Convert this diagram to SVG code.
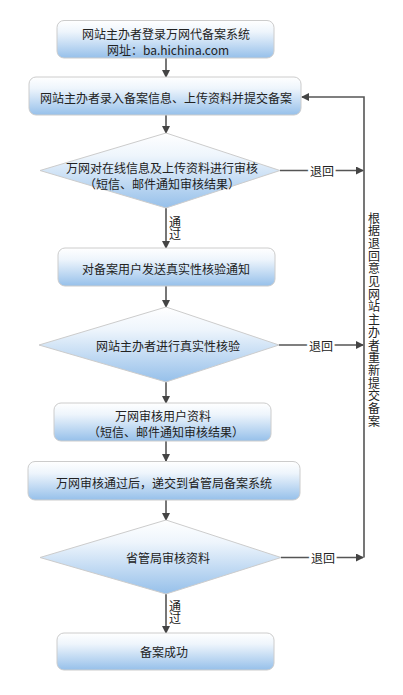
<svg xmlns="http://www.w3.org/2000/svg" width="403" height="695" viewBox="0 0 403 695">
<defs>
<linearGradient id="g" x1="0" y1="0" x2="0" y2="1">
<stop offset="0" stop-color="#ffffff"/>
<stop offset="0.3" stop-color="#eef5fc"/>
<stop offset="1" stop-color="#96c0ea"/>
</linearGradient>
<marker id="ah" viewBox="0 0 8 8" refX="7" refY="4" markerWidth="8" markerHeight="8" markerUnits="userSpaceOnUse" orient="auto">
<path d="M0,0 L8,4 L0,8 z" fill="#444"/>
</marker>
<style>
.box{fill:url(#g);stroke:#cccccc;stroke-width:1}
.t{font-family:"Noto Sans CJK SC","Liberation Sans",sans-serif;font-size:12px;fill:#222;text-anchor:middle;dominant-baseline:central}
.c{fill:none;stroke:#555;stroke-width:1.6}
.a{marker-end:url(#ah)}
.lb{font-family:"Noto Sans CJK SC","Liberation Sans",sans-serif;font-size:12px;fill:#222;text-anchor:middle;dominant-baseline:central;paint-order:stroke;stroke:#fff;stroke-width:5px}
.v{font-family:"Noto Sans CJK SC","Liberation Sans",sans-serif;font-size:12px;fill:#222;writing-mode:vertical-rl}
</style>
</defs>
<rect width="403" height="695" fill="#fff"/>
<g id="connectors">
<line class="c a" x1="166" y1="58" x2="166" y2="77"/>
<line class="c a" x1="166" y1="115" x2="166" y2="133"/>
<line class="c a" x1="166" y1="208" x2="166" y2="248"/>
<line class="c a" x1="166" y1="286" x2="166" y2="307"/>
<line class="c a" x1="166" y1="382" x2="166" y2="403"/>
<line class="c a" x1="166" y1="441" x2="166" y2="461"/>
<line class="c a" x1="166" y1="500" x2="166" y2="520"/>
<line class="c a" x1="166" y1="594" x2="166" y2="633"/>
<line class="c a" x1="280" y1="170.5" x2="363" y2="170.5"/>
<line class="c a" x1="279" y1="345" x2="363" y2="345"/>
<line class="c a" x1="281" y1="557.5" x2="363" y2="557.5"/>
<polyline class="c a" points="364,557.5 364,97 302,97"/>
<text class="lb" x="322" y="170.5">退回</text>
<text class="lb" x="321" y="345">退回</text>
<text class="lb" x="323" y="557.5">退回</text>
<text class="v" x="175" y="216">通过</text>
<text class="v" x="175" y="600">通过</text>
<text class="v" x="374" y="212" letter-spacing="0.7">根据退回意见网站主办者重新提交备案</text>
</g>
<g id="n1">
<rect class="box" x="57" y="20.5" width="217" height="37.5" rx="7"/>
<text class="t" x="166" y="33">网站主办者登录万网代备案系统</text>
<text class="t" x="168" y="49">网址：ba.hichina.com</text>
</g>
<g id="n2">
<rect class="box" x="29" y="77" width="272" height="38" rx="7"/>
<text class="t" x="166" y="97">网站主办者录入备案信息、上传资料并提交备案</text>
</g>
<g id="d1">
<polygon class="box" points="166,133 280,170.5 166,208 40,170.5"/>
<text class="t" x="162" y="167">万网对在线信息及上传资料进行审核</text>
<text class="t" x="162" y="183">（短信、邮件通知审核结果）</text>
</g>
<g id="n3">
<rect class="box" x="58" y="248" width="217" height="38" rx="7"/>
<text class="t" x="166" y="268">对备案用户发送真实性核验通知</text>
</g>
<g id="d2">
<polygon class="box" points="166,307 279,345 166,382 39,345"/>
<text class="t" x="168" y="345">网站主办者进行真实性核验</text>
</g>
<g id="n4">
<rect class="box" x="54" y="403" width="217" height="38" rx="7"/>
<text class="t" x="163" y="415">万网审核用户资料</text>
<text class="t" x="166" y="431">（短信、邮件通知审核结果）</text>
</g>
<g id="n5">
<rect class="box" x="28" y="461.5" width="272" height="38.5" rx="7"/>
<text class="t" x="164" y="482">万网审核通过后，递交到省管局备案系统</text>
</g>
<g id="d3">
<polygon class="box" points="166,520 281,557.5 166,594 40,557.5"/>
<text class="t" x="168" y="557">省管局审核资料</text>
</g>
<g id="n6">
<rect class="box" x="57" y="633" width="217" height="37" rx="7"/>
<text class="t" x="164" y="651">备案成功</text>
</g>
</svg>
